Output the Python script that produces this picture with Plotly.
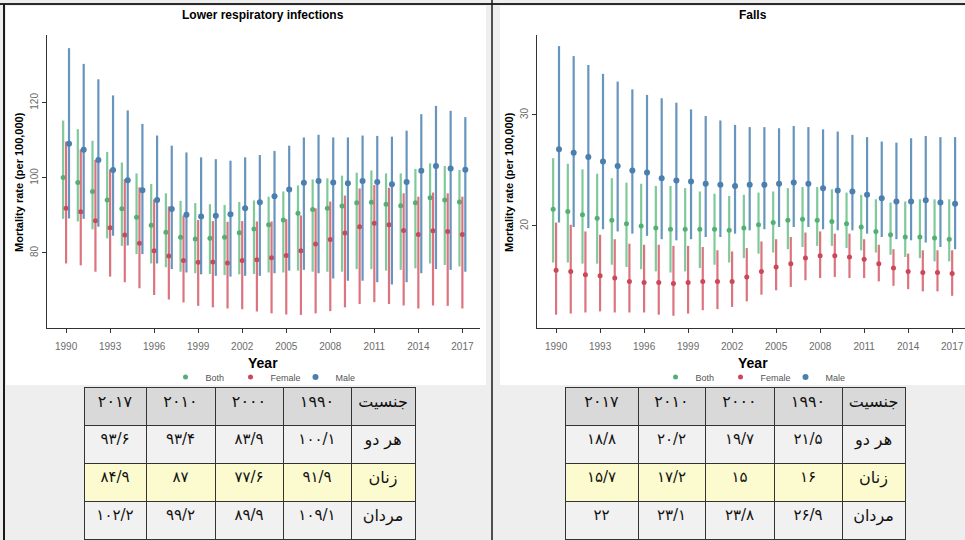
import plotly.graph_objects as go

# ---------------------------------------------------------------- data
years = list(range(1990, 2018))

# Lower respiratory infections, mortality per 100,000 (mean, lower, upper)
lri_both = [100.1, 98.8, 96.4, 94.1, 91.8, 89.5, 87.4, 85.5, 84.2, 83.7, 83.9, 84.2, 85.4, 86.4,
            87.5, 88.8, 90.6, 91.6, 91.9, 92.5, 93.4, 93.5, 93.0, 92.6, 93.4, 94.7, 94.1, 93.6]
lri_both_lo = [89.1, 88.4, 86.3, 83.9, 81.9, 79.7, 77.2, 76.2, 75.0, 74.6, 74.4, 74.1, 74.3, 74.4,
               74.8, 74.8, 75.3, 75.0, 75.0, 75.0, 75.7, 75.7, 75.3, 75.5, 75.9, 77.2, 76.8, 76.4]
lri_both_hi = [115.3, 113.0, 109.9, 106.9, 104.1, 101.2, 98.4, 95.9, 93.9, 93.3, 93.0, 92.8, 93.6, 94.0,
               95.0, 96.4, 98.0, 99.6, 99.9, 100.6, 101.4, 102.0, 101.2, 101.2, 102.4, 103.9, 103.2, 102.1]

lri_female = [91.9, 91.0, 88.6, 86.7, 84.8, 82.6, 80.6, 79.2, 78.0, 77.5, 77.6, 77.3, 78.0, 78.2,
              78.7, 79.3, 80.6, 82.4, 83.6, 85.3, 87.0, 87.9, 87.5, 86.0, 84.9, 85.9, 85.7, 84.9]
lri_female_lo = [77.2, 76.7, 75.0, 73.7, 72.2, 70.6, 68.8, 67.6, 66.8, 65.9, 65.5, 65.2, 65.0, 64.4,
                 63.9, 63.6, 63.5, 63.9, 64.5, 65.5, 66.4, 66.9, 66.4, 66.0, 65.2, 66.0, 65.9, 65.2]
lri_female_hi = [109.7, 107.6, 104.8, 102.3, 99.7, 97.5, 94.3, 92.4, 90.0, 88.8, 88.5, 88.3, 88.5, 88.4,
                 88.4, 89.0, 90.0, 91.9, 93.7, 95.3, 97.2, 98.1, 97.4, 95.9, 95.0, 96.1, 95.9, 95.0]

lri_male = [109.1, 107.5, 104.8, 102.1, 99.4, 96.7, 94.1, 91.7, 90.2, 89.7, 89.9, 90.3, 91.9, 93.5,
            95.1, 96.9, 98.7, 99.2, 98.8, 98.6, 99.2, 98.9, 98.3, 98.9, 101.9, 103.2, 102.5, 102.2]
lri_male_lo = [89.2, 89.1, 87.0, 84.6, 82.0, 79.7, 77.2, 75.7, 74.8, 74.3, 73.9, 73.7, 73.9, 73.9,
               74.6, 75.3, 75.5, 74.6, 73.2, 72.6, 72.6, 72.2, 71.6, 72.2, 74.6, 75.7, 75.5, 75.0]
lri_male_hi = [134.6, 130.4, 126.3, 122.0, 118.0, 114.4, 111.3, 108.6, 106.8, 105.5, 105.0, 104.6, 105.5, 106.1,
               107.2, 108.6, 110.8, 111.5, 110.8, 110.8, 111.3, 111.2, 111.0, 112.6, 117.0, 119.2, 117.9, 116.2]

# Falls, mortality per 100,000 (mean, lower, upper)
falls_both = [21.5, 21.3, 21.0, 20.7, 20.5, 20.2, 20.0, 19.8, 19.7, 19.7, 19.7, 19.7, 19.6, 19.8,
              20.1, 20.3, 20.5, 20.6, 20.5, 20.4, 20.2, 19.9, 19.5, 19.2, 19.0, 19.0, 18.9, 18.8]
falls_both_lo = [16.7, 16.7, 16.6, 16.6, 16.5, 16.3, 16.1, 15.9, 15.8, 15.9, 16.2, 16.5, 16.7, 17.1,
                 17.5, 17.6, 17.9, 18.1, 18.2, 18.2, 18.0, 17.8, 17.6, 17.4, 17.2, 17.1, 16.8, 16.8]
falls_both_hi = [26.1, 25.6, 25.1, 24.7, 24.3, 23.9, 23.8, 23.6, 23.6, 23.4, 23.1, 22.9, 22.7, 22.8,
                 23.0, 23.1, 23.4, 23.5, 23.5, 23.3, 23.0, 22.8, 22.4, 22.1, 22.2, 22.4, 22.4, 22.4]

falls_female = [16.0, 15.9, 15.6, 15.5, 15.3, 15.0, 14.9, 14.9, 14.8, 14.9, 15.0, 15.0, 15.0, 15.4,
                15.9, 16.3, 16.6, 17.1, 17.3, 17.3, 17.2, 17.0, 16.6, 16.2, 15.9, 15.8, 15.8, 15.7]
falls_female_lo = [12.0, 12.1, 12.2, 12.3, 12.2, 12.2, 12.2, 12.0, 11.9, 12.1, 12.4, 12.5, 12.7, 13.2,
                   13.8, 14.2, 14.5, 15.1, 15.3, 15.4, 15.3, 15.3, 15.0, 14.6, 14.3, 14.1, 14.1, 13.7]
falls_female_hi = [20.3, 20.1, 19.5, 19.2, 18.8, 18.4, 18.3, 18.3, 18.2, 18.2, 18.1, 17.8, 17.7, 18.0,
                   18.6, 18.8, 19.0, 19.4, 19.5, 19.3, 19.3, 18.8, 18.3, 17.9, 17.5, 17.8, 17.8, 17.8]

falls_male = [26.9, 26.6, 26.2, 25.8, 25.4, 25.0, 24.8, 24.3, 24.1, 24.0, 23.8, 23.7, 23.6, 23.7,
              23.7, 23.8, 23.9, 23.8, 23.4, 23.2, 23.1, 22.8, 22.5, 22.2, 22.2, 22.3, 22.1, 22.0]
falls_male_lo = [20.3, 19.9, 19.8, 19.7, 19.5, 19.3, 19.1, 18.8, 18.7, 18.8, 19.0, 19.0, 19.3, 19.6,
                 19.7, 19.9, 19.9, 19.9, 19.7, 19.6, 19.6, 19.3, 19.0, 18.8, 18.7, 18.5, 18.1, 17.9]
falls_male_hi = [36.2, 35.3, 34.5, 33.7, 33.0, 32.3, 31.8, 31.5, 31.1, 30.5, 29.9, 29.5, 29.1, 28.9,
                 28.9, 28.8, 29.0, 28.9, 28.7, 28.5, 28.2, 28.0, 27.6, 27.5, 27.9, 28.1, 28.0, 28.0]

x_ticks = [1990, 1993, 1996, 1999, 2002, 2005, 2008, 2011, 2014, 2017]
table_years = [2017, 2010, 2000, 1990]
sex_labels = ["هر دو", "زنان", "مردان"]
sex_header = "جنسیت"

# ---------------------------------------------------------------- helpers
W, H = 965, 540


def px(x):
    return x / W


def py(y):
    return 1 - y / H


FA_DIGITS = str.maketrans("0123456789", "۰۱۲۳۴۵۶۷۸۹")


def fa_num(v):
    s = f"{v:.1f}"
    if s.endswith(".0"):
        s = s[:-2]
    return s.replace(".", "/").translate(FA_DIGITS)


def fa_int(v):
    return str(v).translate(FA_DIGITS)


STYLE = {
    "Both": dict(offset=-0.2, bar="rgba(104,192,136,0.85)", dot="#52b075", size=5),
    "Female": dict(offset=0.0, bar="rgba(214,92,104,0.85)", dot="#cc4757", size=5),
    "Male": dict(offset=0.2, bar="rgba(86,138,182,0.9)", dot="#4a7fae", size=6),
}

fig = go.Figure()


def add_panel(groups, xref, yref, legend):
    for name, mean, lo, hi in groups:
        st = STYLE[name]
        fig.add_trace(go.Scatter(
            x=[yr + st["offset"] for yr in years],
            y=mean,
            mode="markers",
            name=name,
            marker=dict(color=st["dot"], size=st["size"]),
            error_y=dict(
                type="data", symmetric=False,
                array=[h - m for h, m in zip(hi, mean)],
                arrayminus=[m - l for m, l in zip(mean, lo)],
                color=st["bar"], thickness=2.2, width=0,
            ),
            xaxis=xref, yaxis=yref, legend=legend,
        ))


add_panel([
    ("Both", lri_both, lri_both_lo, lri_both_hi),
    ("Female", lri_female, lri_female_lo, lri_female_hi),
    ("Male", lri_male, lri_male_lo, lri_male_hi),
], "x", "y", "legend")

add_panel([
    ("Both", falls_both, falls_both_lo, falls_both_hi),
    ("Female", falls_female, falls_female_lo, falls_female_hi),
    ("Male", falls_male, falls_male_lo, falls_male_hi),
], "x2", "y2", "legend2")


# ---------------------------------------------------------------- tables
def build_table(both, female, male, x0, x1, widths):
    cols = []
    for yr in table_years:
        i = years.index(yr)
        cols.append([fa_num(both[i]), fa_num(female[i]), fa_num(male[i])])
    cols.append(sex_labels)
    fills = [["#f1f1f1", "#fcfbcf", "#f1f1f1"] for _ in cols]
    fig.add_trace(go.Table(
        domain=dict(x=[px(x0), px(x1)], y=[0, py(387)]),
        columnwidth=widths,
        header=dict(
            values=[fa_int(y) for y in table_years] + [sex_header],
            fill_color="#d9d9d9",
            line=dict(color="#333333", width=1),
            font=dict(family="DejaVu Sans", size=[16, 16, 16, 16, 16], color="#111111"),
            align="center", height=38,
        ),
        cells=dict(
            values=cols,
            fill=dict(color=fills),
            line=dict(color="#333333", width=1),
            font=dict(family="DejaVu Sans", size=[15, 15, 15, 15, 16], color="#111111"),
            align="center", height=38,
        ),
    ))


build_table(lri_both, lri_female, lri_male, 84, 415, [62, 69, 68, 68, 64])
build_table(falls_both, falls_female, falls_male, 565, 905, [73, 67, 69, 68, 63])

# ---------------------------------------------------------------- axes
axis_common = dict(
    showgrid=False, zeroline=False, showline=True, linecolor="#333333", linewidth=1,
    ticks="outside", ticklen=4, tickcolor="#333333",
    tickfont=dict(family="Liberation Sans", size=10, color="#6b6b6b"),
)
px_per_year = 14.67

fig.update_layout(
    xaxis=dict(axis_common, domain=[px(47), px(480)], range=[1988.7, 2018.2],
               tickvals=x_ticks, ticklabelstandoff=5, anchor="y"),
    yaxis=dict(axis_common, domain=[py(328), py(35)], range=[60.0, 138.1],
               tickvals=[80, 100, 120], tickangle=-90, anchor="x"),
    xaxis2=dict(axis_common, domain=[px(537), 1.0],
                range=[1988.7, 1988.7 + (W - 537) / px_per_year],
                tickvals=x_ticks, ticklabelstandoff=5, anchor="y2"),
    yaxis2=dict(axis_common, domain=[py(328), py(35)], range=[10.8, 37.2],
                tickvals=[20, 30], tickangle=-90, anchor="x2"),
)

legend_common = dict(
    orientation="h", xanchor="center", yanchor="middle", y=py(377),
    font=dict(family="Liberation Sans Narrow, Liberation Sans", size=9, color="#555555"),
    bgcolor="rgba(0,0,0,0)", itemwidth=30, tracegroupgap=0,
    entrywidth=20, entrywidthmode="pixels",
)
fig.update_layout(
    legend=dict(legend_common, x=px(263)),
    legend2=dict(legend_common, x=px(753)),
)

# ---------------------------------------------------------------- titles
TITLE_FONT = dict(family="Liberation Sans Narrow, Liberation Sans", color="#000000")
annotations = []
for cx, title, ty_x in [(263, "Lower respiratory infections", 19), (753, "Falls", 509)]:
    annotations.append(dict(x=px(cx), y=py(15), xref="paper", yref="paper", text=f"<b>{title}</b>",
                            xanchor="center", yanchor="middle",
                            showarrow=False, font=dict(TITLE_FONT, size=12)))
    annotations.append(dict(x=px(cx), y=py(363), xref="paper", yref="paper", text="<b>Year</b>",
                            xanchor="center", yanchor="middle",
                            showarrow=False, font=dict(TITLE_FONT, size=14)))
    annotations.append(dict(x=px(ty_x), y=py(182), xref="paper", yref="paper",
                            text="<b>Mortality rate (per 100,000)</b>", textangle=-90,
                            xanchor="center", yanchor="middle",
                            showarrow=False, font=dict(family="Liberation Sans", size=11, color="#000000")))

# ---------------------------------------------------------------- page frame
shapes = [
    dict(type="rect", xref="paper", yref="paper", x0=px(6), x1=px(486), y0=py(385), y1=py(6),
         fillcolor="white", line=dict(width=0), layer="below"),
    dict(type="rect", xref="paper", yref="paper", x0=px(500), x1=1.0, y0=py(385), y1=py(6),
         fillcolor="white", line=dict(width=0), layer="below"),
    dict(type="line", xref="paper", yref="paper", x0=0, x1=1, y0=py(4), y1=py(4),
         line=dict(color="#2b2b2b", width=2)),
    dict(type="line", xref="paper", yref="paper", x0=px(4), x1=px(4), y0=0, y1=py(4),
         line=dict(color="#1a1a1a", width=2)),
    dict(type="line", xref="paper", yref="paper", x0=px(492), x1=px(492), y0=0, y1=1,
         line=dict(color="#1a1a1a", width=1.5)),
]

fig.update_layout(
    width=W, height=H,
    margin=dict(l=0, r=0, t=0, b=0),
    paper_bgcolor="#eeeeee",
    plot_bgcolor="rgba(0,0,0,0)",
    annotations=annotations,
    shapes=shapes,
    showlegend=True,
)

fig.write_html("out.html")
